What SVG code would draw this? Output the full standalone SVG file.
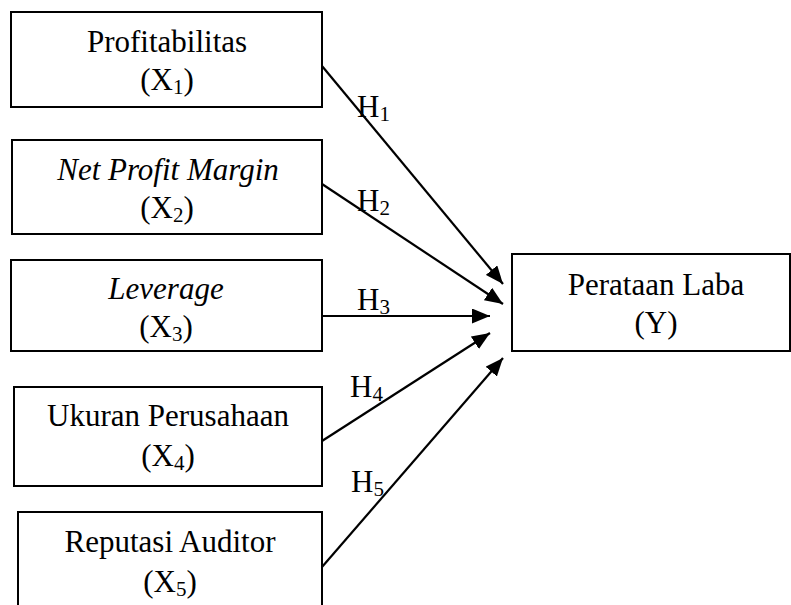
<svg xmlns="http://www.w3.org/2000/svg" width="791" height="605" viewBox="0 0 791 605">
<defs>
<marker id="ah" markerUnits="userSpaceOnUse" markerWidth="19" markerHeight="15" refX="18" refY="7.5" orient="auto">
<path d="M0,0 L18,7.5 L0,15 z" fill="#000"/>
</marker>
<style>
.box{fill:#fff;stroke:#000;stroke-width:2}
.t{font-family:"Liberation Serif","Times New Roman",serif;font-size:31px;fill:#000;text-anchor:middle}
.i{font-style:italic}
.h{font-family:"Liberation Serif","Times New Roman",serif;font-size:31px;fill:#000}
.sub{font-size:21px}
.c{stroke:#000;stroke-width:2.2;fill:none;marker-end:url(#ah)}
</style>
</defs>
<rect width="791" height="605" fill="#fff"/>
<g id="connectors">
<line class="c" x1="322" y1="66" x2="503" y2="284"/>
<line class="c" x1="322" y1="184" x2="503" y2="304"/>
<line class="c" x1="322" y1="316" x2="490" y2="316"/>
<line class="c" x1="322" y1="441" x2="490" y2="333"/>
<line class="c" x1="322" y1="567" x2="503" y2="358"/>
<text class="h" x="357" y="117">H<tspan class="sub" dy="4">1</tspan></text>
<text class="h" x="357" y="211">H<tspan class="sub" dy="4">2</tspan></text>
<text class="h" x="357" y="310">H<tspan class="sub" dy="4">3</tspan></text>
<text class="h" x="350" y="397">H<tspan class="sub" dy="4">4</tspan></text>
<text class="h" x="351" y="492">H<tspan class="sub" dy="4">5</tspan></text>
</g>
<g id="x1">
<rect class="box" x="11" y="12" width="311" height="95"/>
<text class="t" x="167" y="52">Profitabilitas</text>
<text class="t" x="167" y="90">(X<tspan class="sub" dy="4">1</tspan><tspan dy="-4">)</tspan></text>
</g>
<g id="x2">
<rect class="box" x="12" y="140" width="310" height="94"/>
<text class="t i" x="168" y="180">Net Profit Margin</text>
<text class="t" x="167" y="218">(X<tspan class="sub" dy="4">2</tspan><tspan dy="-4">)</tspan></text>
</g>
<g id="x3">
<rect class="box" x="11" y="260" width="311" height="91"/>
<text class="t i" x="166" y="299">Leverage</text>
<text class="t" x="166" y="337">(X<tspan class="sub" dy="4">3</tspan><tspan dy="-4">)</tspan></text>
</g>
<g id="x4">
<rect class="box" x="14" y="387" width="308" height="99"/>
<text class="t" x="168" y="426">Ukuran Perusahaan</text>
<text class="t" x="168" y="466">(X<tspan class="sub" dy="4">4</tspan><tspan dy="-4">)</tspan></text>
</g>
<g id="x5">
<rect class="box" x="18" y="512" width="304" height="100"/>
<text class="t" x="170" y="552">Reputasi Auditor</text>
<text class="t" x="170" y="592">(X<tspan class="sub" dy="4">5</tspan><tspan dy="-4">)</tspan></text>
</g>
<g id="y">
<rect class="box" x="512" y="254" width="278" height="97"/>
<text class="t" x="656" y="295">Perataan Laba</text>
<text class="t" x="656" y="333">(Y)</text>
</g>
</svg>
